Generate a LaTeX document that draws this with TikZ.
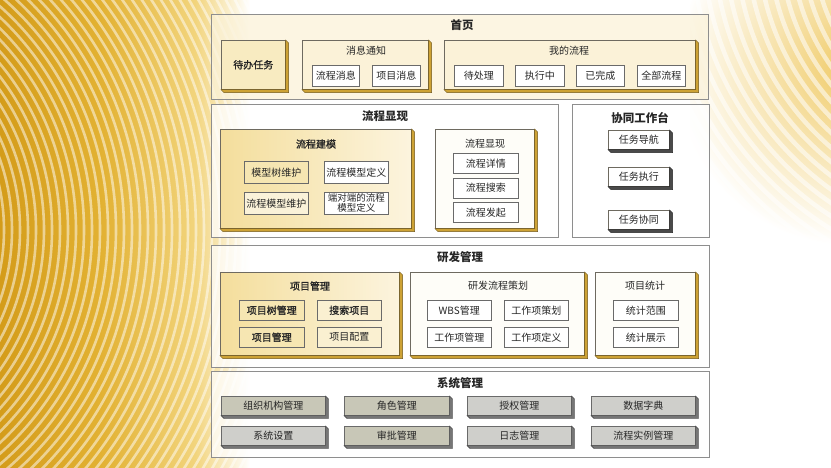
\documentclass[tikz,border=0pt]{standalone}
\usepackage{fontspec}
\setmainfont{Noto Sans CJK SC}
\newfontfamily\semib[FakeBold=1.3]{Noto Sans CJK SC}
\definecolor{g1}{HTML}{D49C1A}
\definecolor{g2}{HTML}{E2B132}
\definecolor{g3}{HTML}{F2D47C}
\definecolor{rg}{HTML}{F0CB68}
\definecolor{txt}{HTML}{262626}
\definecolor{outerc}{HTML}{8E8E8E}
\definecolor{midc}{HTML}{6E6A60}
\definecolor{leafc}{HTML}{6A6A6A}
\definecolor{creamA}{HTML}{FBF2D8}
\definecolor{creamB}{HTML}{FEFDF8}
\definecolor{goldfillL}{HTML}{F4DE9C}
\definecolor{goldfillR}{HTML}{FCF4DE}
\definecolor{leafgold}{HTML}{F6E6B2}
\definecolor{shgold}{HTML}{CDA235}
\definecolor{shdark}{HTML}{4A4A4A}
\definecolor{shgrey}{HTML}{767676}
\definecolor{btngrey}{HTML}{CFCFCB}
\definecolor{btnolive}{HTML}{C8C7B7}
\pgfdeclarehorizontalshading{leftgold}{100bp}{color(0bp)=(g1); color(25bp)=(g1); color(45bp)=(g2); color(64bp)=(g3); color(75bp)=(white); color(100bp)=(white)}
\newcommand\fsT{\fontsize{11.5}{13}\selectfont}
\newcommand\fsM{\fontsize{10}{12}\selectfont}
\newcommand\fsS{\fontsize{10}{12}\selectfont}
\newcommand\extr[2]{\filldraw[fill=#2, draw=#2!55!black, line width=0.4pt] (#1.north east) -- ([shift={(3,3)}]#1.north east) -- ([shift={(3,3)}]#1.south east) -- ([shift={(3,3)}]#1.south west) -- (#1.south west) -- (#1.south east) -- cycle;}
\begin{document}
\begin{tikzpicture}[x=1pt,y=-1pt,
  outer/.style={draw=outerc, line width=0.6pt, fill=white, fill opacity=0.72, anchor=north west, inner sep=0pt},
  mid/.style={draw=midc, line width=0.6pt, fill=creamA, anchor=north west, inner sep=0pt, text=txt, font=\fsM},
  leaf/.style={draw=leafc, line width=0.5pt, fill=white, anchor=north west, inner sep=0pt, text=txt, font=\fsS, minimum height=21pt},
  collab/.style={draw=midc, line width=0.6pt, fill=white, anchor=north west, inner sep=0pt, text=txt, font=\fsM, minimum width=61pt, minimum height=19pt},
  sysb/.style={draw=leafc, line width=0.5pt, fill=btngrey, anchor=north west, inner sep=0pt, text=txt, font=\fsM, minimum width=104pt, minimum height=19pt},
  ttl/.style={text=txt, font=\bfseries\fsT, inner sep=0pt},
  sub/.style={text=txt, font=\fsM, inner sep=0pt},
  subb/.style={text=txt, font=\semib\fsM, inner sep=0pt}]
\useasboundingbox (0,0) rectangle (831,467);
\fill[white] (0,0) rectangle (831,467);
% left swirl background
\begin{scope}
  \clip (0,0) rectangle (250,467);
  \shade[shading=leftgold] (0,0) rectangle (250,467);
  \foreach \r in {100,108,...,560} \draw[white, line width=2.6pt, opacity=0.5] (-200,230) circle[radius=\r];
\end{scope}
% right top swirl background
\begin{scope}
  \clip (690,0) rectangle (831,300);
  \shade[inner color=rg, outer color=white] (850,70) circle[radius=175];
  \foreach \r in {120,131,...,390} \draw[white, line width=4.5pt, opacity=0.55] (1010,-60) circle[radius=\r];
\end{scope}

% outer sections
\node[outer, fill=creamA, minimum width=497pt, minimum height=85pt] (home) at (211,14) {};
\node[outer, minimum width=347pt, minimum height=133pt] (flow) at (211,104) {};
\node[outer, minimum width=137pt, minimum height=133pt] (coop) at (572,104) {};
\node[outer, minimum width=498pt, minimum height=122pt] (rd) at (211,245) {};
\node[outer, minimum width=498pt, minimum height=86pt] (sys) at (211,371) {};
\node[ttl] (t-home) at (462,25) {首页};
\node[ttl] (t-flow) at (385,116) {流程显现};
\node[ttl] (t-coop) at (640,118) {协同工作台};
\node[ttl] (t-rd) at (460,257) {研发管理};
\node[ttl] (t-sys) at (460,383) {系统管理};

% mid boxes
\node[mid, fill=leafgold!60!creamA, minimum width=64pt, minimum height=49pt, font=\semib\fsM] (m1) at (221,40) {待办任务};
\node[mid, minimum width=126pt, minimum height=49pt] (m2) at (302,40) {};
\node[mid, minimum width=251pt, minimum height=49pt] (m3) at (444,40) {};
\node[mid, left color=goldfillL, right color=goldfillR, minimum width=191pt, minimum height=99pt] (m4) at (220,129) {};
\node[mid, fill=creamB, minimum width=99pt, minimum height=99pt] (m5) at (435,129) {};
\node[mid, left color=goldfillL, right color=goldfillR, minimum width=179pt, minimum height=83pt] (m6) at (220,272) {};
\node[mid, fill=creamB, minimum width=174pt, minimum height=83pt] (m7) at (410,272) {};
\node[mid, fill=creamB, minimum width=100pt, minimum height=83pt] (m8) at (595,272) {};
\foreach \n in {m1,m2,m3,m4,m5,m6,m7,m8} {\extr{\n}{shgold}}
\node[sub] (t-m2) at (366,51) {消息通知};
\node[sub] (t-m3) at (569,51) {我的流程};
\node[subb] (t-m4) at (316,144) {流程建模};
\node[sub] (t-m5) at (485,144) {流程显现};
\node[subb] (t-m6) at (310,286) {项目管理};
\node[sub] (t-m7) at (498,286) {研发流程策划};
\node[sub] (t-m8) at (645,286) {项目统计};

% home leaves
\node[leaf, minimum width=47pt] (a1) at (312,65) {流程消息};
\node[leaf, minimum width=48pt] (a2) at (372,65) {项目消息};
\node[leaf, minimum width=49pt] (b1) at (454,65) {待处理};
\node[leaf, minimum width=49pt] (b2) at (515,65) {执行中};
\node[leaf, minimum width=48pt] (b3) at (576,65) {已完成};
\node[leaf, minimum width=48pt] (b4) at (637,65) {全部流程};

% flow modelling leaves
\node[leaf, fill=leafgold, minimum width=64pt, minimum height=22pt] (c1) at (244,161) {模型树维护};
\node[leaf, minimum width=64pt, minimum height=22pt] (c2) at (324,161) {流程模型定义};
\node[leaf, fill=leafgold!50!white, minimum width=64pt, minimum height=22pt] (c3) at (244,192) {流程模型维护};
\node[leaf, minimum width=64pt, minimum height=22pt, align=center, font=\fontsize{9.5}{10}\selectfont] (c4) at (324,192) {端对端的流程\\模型定义};
\node[leaf, minimum width=65pt, minimum height=20pt] (d1) at (453,153) {流程详情};
\node[leaf, minimum width=65pt, minimum height=20pt] (d2) at (453,177.5) {流程搜索};
\node[leaf, minimum width=65pt, minimum height=20pt] (d3) at (453,202) {流程发起};

% collaboration leaves
\node[collab] (e1) at (608,130) {任务导航};
\node[collab] (e2) at (608,167) {任务执行};
\node[collab] (e3) at (608,210) {任务协同};
\foreach \n in {e1,e2,e3} {\extr{\n}{shdark}}

% R&D leaves
\node[leaf, fill=leafgold, minimum width=65pt, minimum height=20pt, font=\semib\fsS] (f1) at (239,300) {项目树管理};
\node[leaf, fill=leafgold!60!white, minimum width=64pt, minimum height=20pt, font=\semib\fsS] (f2) at (317,300) {搜索项目};
\node[leaf, fill=leafgold, minimum width=65pt, minimum height=20pt, font=\semib\fsS] (f3) at (239,327) {项目管理};
\node[leaf, fill=leafgold!60!white, minimum width=64pt, minimum height=20pt] (f4) at (317,327) {项目配置};
\node[leaf, minimum width=64pt, minimum height=20pt] (g1n) at (427,300) {WBS管理};
\node[leaf, minimum width=64pt, minimum height=20pt] (g2n) at (504,300) {工作项策划};
\node[leaf, minimum width=64pt, minimum height=20pt] (g3n) at (427,327) {工作项管理};
\node[leaf, minimum width=64pt, minimum height=20pt] (g4n) at (504,327) {工作项定义};
\node[leaf, minimum width=65pt, minimum height=20pt] (h1) at (613,300) {统计范围};
\node[leaf, minimum width=65pt, minimum height=20pt] (h2) at (613,327) {统计展示};

% system buttons
\node[sysb, fill=btnolive] (s1) at (221,396) {组织机构管理};
\node[sysb, fill=btnolive, minimum width=105pt] (s2) at (344,396) {角色管理};
\node[sysb] (s3) at (467,396) {授权管理};
\node[sysb] (s4) at (591,396) {数据字典};
\node[sysb] (s5) at (221,426) {系统设置};
\node[sysb, fill=btnolive, minimum width=105pt] (s6) at (344,426) {审批管理};
\node[sysb] (s7) at (467,426) {日志管理};
\node[sysb] (s8) at (591,426) {流程实例管理};
\foreach \n in {s1,s2,s3,s4,s5,s6,s7,s8} {\extr{\n}{shgrey}}
\end{tikzpicture}
\end{document}
